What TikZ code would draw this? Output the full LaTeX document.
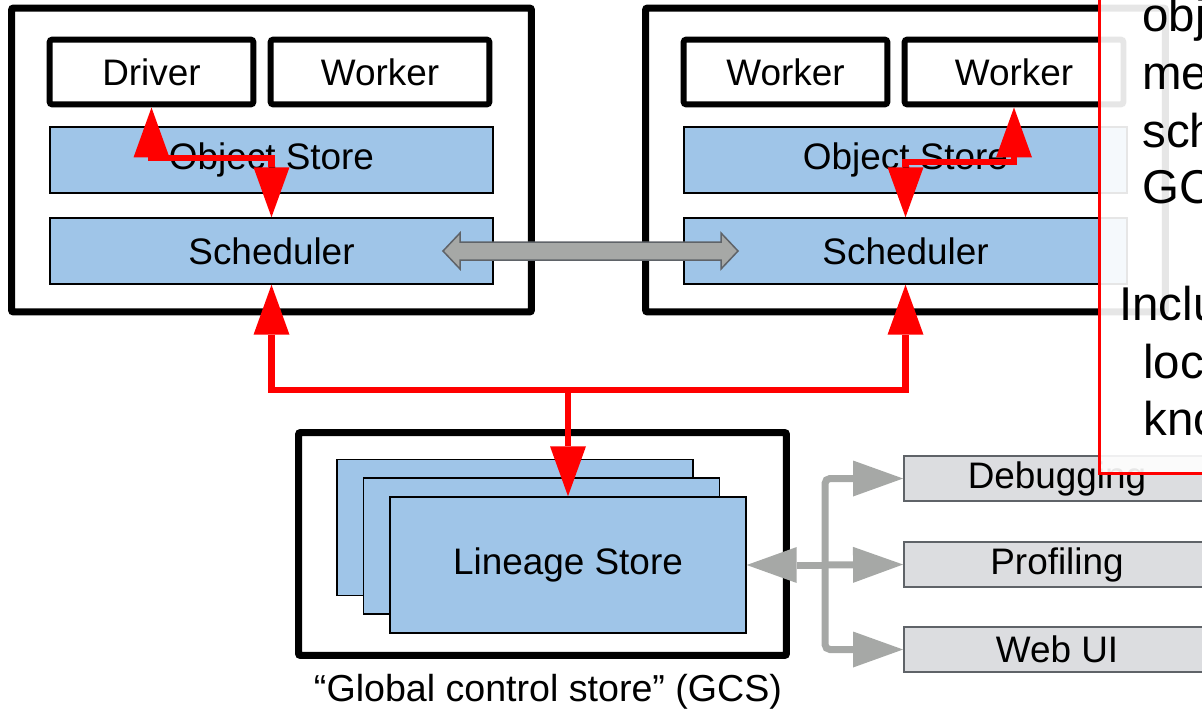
\documentclass[tikz,border=0pt]{standalone}
\usepackage{fontspec}
\setmainfont{Liberation Sans}
\usetikzlibrary{arrows.meta}
\definecolor{storeblue}{HTML}{9FC5E8}
\definecolor{arrowgray}{HTML}{A6A8A6}
\definecolor{toolgray}{HTML}{DCDDE0}
\definecolor{edgegray}{HTML}{5F6368}
\newcommand{\lblfont}{\fontsize{21}{25}\selectfont}
\newcommand{\notefont}{\fontsize{27}{32}\selectfont}
\tikzset{
  bigtip/.tip={Triangle[length=1cm,width=0.72cm,line width=0pt]},
  host/.style={draw, line width=0.14cm, rounded corners=0.04cm, minimum width=10.4cm, minimum height=6.08cm, inner sep=0pt},
  proc/.style={draw, line width=0.12cm, rounded corners=0.06cm, minimum height=1.3cm, inner sep=0pt, font=\lblfont},
  store/.style={draw, fill=storeblue, line width=0.03cm, minimum width=8.86cm, minimum height=1.32cm, inner sep=0pt, font=\lblfont},
  shard/.style={draw, fill=storeblue, line width=0.03cm, minimum width=7.12cm, minimum height=2.72cm, inner sep=0pt, font=\lblfont},
  tool/.style={draw=edgegray, fill=toolgray, line width=0.04cm, minimum width=6.12cm, minimum height=0.9cm, inner sep=0pt, font=\lblfont},
  redline/.style={draw=red, line width=0.13cm},
  grayline/.style={draw=arrowgray, line width=0.14cm},
  note/.style={anchor=base west, inner sep=0pt, font=\notefont}
}
\begin{document}
\begin{tikzpicture}[x=0.02cm, y=-0.02cm]
  \useasboundingbox (0,0) rectangle (1202,713);
  \clip (0,0) rectangle (1202,713);

  % Drawing host on the left
  \node[host] (hostL) at (271.5,160) {};
  \node[proc, minimum width=4.08cm] (driver) at (151.5,72) {Driver};
  \node[proc, minimum width=4.38cm] (workerL) at (380,72) {Worker};
  \node[store] (objL) at (271.5,160) {Object Store};
  \node[store] (schedL) at (271.5,251) {Scheduler};

  % Drawing host on the right
  \node[host] (hostR) at (905.5,160) {};
  \node[proc, minimum width=4.08cm] (workerRa) at (785.5,72) {Worker};
  \node[proc, minimum width=4.38cm] (workerRb) at (1014,72) {Worker};
  \node[store] (objR) at (905.5,160) {Object Store};
  \node[store] (schedR) at (905.5,251) {Scheduler};

  % Drawing gray double arrow between the schedulers
  \draw[draw=edgegray, fill=arrowgray, line width=0.03cm, line join=miter]
    (443,251) -- (460,233) -- (460,242) -- (721,242) -- (721,233) -- (738,251)
    -- (721,269) -- (721,260) -- (460,260) -- (460,269) -- cycle;

  % Drawing red links inside the hosts
  \coordinate (bendL) at (271.5,158);
  \coordinate (bendR) at (905.5,162);
  \draw[redline, bigtip-bigtip] (driver.south) |- (bendL) -- (schedL.north);
  \draw[redline, bigtip-bigtip] (schedR.north) -- (bendR) -| (workerRb.south);

  % Drawing global control store
  \node[host, minimum width=9.76cm, minimum height=4.46cm] (gcs) at (542.5,544) {};
  \node[shard] (shardA) at (515,527.5) {};
  \node[shard] (shardB) at (541.5,546) {};
  \node[shard] (lineage) at (568,565) {Lineage Store};
  \node[font=\fontsize{21.4}{25}\selectfont, inner sep=0pt] (gcslabel) at (548,692) {“Global control store” (GCS)};

  % Drawing red links between schedulers and GCS
  \coordinate (gcsjoin) at (568,390);
  \draw[redline, bigtip-bigtip] (schedL.south) |- (gcsjoin) -| (schedR.south);
  \draw[redline, -bigtip] (gcsjoin) -- (lineage.north);

  % Drawing tools
  \node[tool] (debug) at (1057,478.5) {Debugging};
  \node[tool] (prof) at (1057,564.5) {Profiling};
  \node[tool] (webui) at (1057,649.5) {Web UI};

  % Drawing gray links from GCS to tools
  \coordinate (hub) at (825,565);
  \draw[grayline, bigtip-] (lineage.east) -- (hub);
  \draw[grayline, -bigtip, rounded corners=0.1cm] (hub) |- (debug.west);
  \draw[grayline, -bigtip] (hub) -- (prof.west);
  \draw[grayline, -bigtip, rounded corners=0.1cm] (hub) |- (webui.west);

  % Drawing red callout
  \draw[draw=red, line width=0.06cm, fill=white, fill opacity=0.9] (1099,-20) rectangle (1240,473);
  \node[note] (noteA) at (1142,32) {obj};
  \node[note] (noteB) at (1142,90) {me};
  \node[note] (noteC) at (1142,147) {sch};
  \node[note] (noteD) at (1142,203) {GC};
  \node[note] (noteE) at (1119,320) {Inclu};
  \node[note] (noteF) at (1143,378) {loc};
  \node[note] (noteG) at (1143,435) {kno};
\end{tikzpicture}
\end{document}
